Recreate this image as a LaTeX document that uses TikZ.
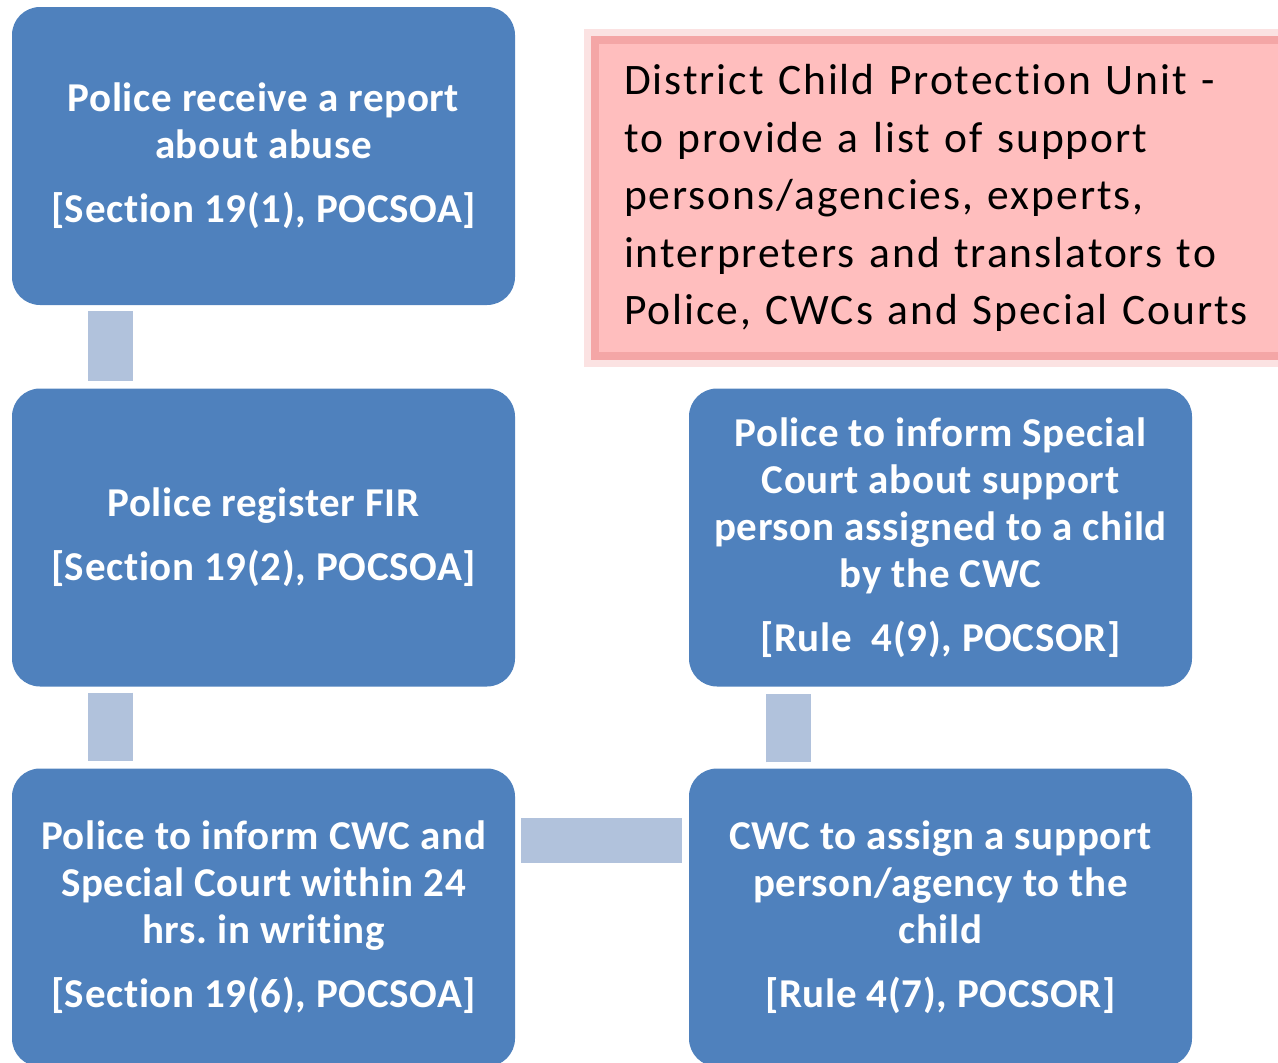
\documentclass[tikz,border=0pt]{standalone}
\usepackage{fontspec}
\setmainfont{Carlito}[Ligatures=NoCommon]
\newfontfamily\stagefont{Carlito}[LetterSpace=1.6,Ligatures=NoCommon]
\newfontfamily\unitfont{Carlito}[LetterSpace=4.5,Ligatures=NoCommon]
\usetikzlibrary{positioning}
\frenchspacing

\definecolor{boxblue}{RGB}{79,129,189}
\definecolor{linkblue}{RGB}{177,194,220}
\definecolor{pinkfill}{RGB}{255,190,190}
\definecolor{pinkedge}{RGB}{244,166,166}
\definecolor{pinkglow}{RGB}{251,226,226}

\tikzset{
  stage/.style={fill=boxblue,rounded corners=28pt,minimum width=503pt,
    minimum height=298pt,inner sep=0pt,align=center,text=white,
    font=\stagefont\fontsize{41}{47}\selectfont\bfseries\frenchspacing},
  link/.style={draw=linkblue,line width=45pt,shorten <=6pt,shorten >=7pt},
  unitbox/.style={fill=pinkfill,draw=pinkedge,line width=8pt,
    preaction={draw=pinkglow,line width=22pt},
    anchor=north west,text width=650pt,inner xsep=29pt,minimum height=316pt,
    align=left,font=\unitfont\fontsize{43.5}{57.5}\selectfont}
}

\begin{document}
\begin{tikzpicture}[x=1pt,y=-1pt]
  \useasboundingbox (0,0) rectangle (1278,1063);
  % left column
  \node[stage](report) at (263.5,156)
    {Police receive a report\\about abuse\\[17pt][Section 19(1), POCSOA]};
  \node[stage](fir) at (263.5,537.5)
    {Police register FIR\\[17pt][Section 19(2), POCSOA]};
  \node[stage](inform) at (263.5,917.5)
    {Police to inform CWC and\\Special Court within 24\\hrs. in writing\\[17pt][Section 19(6), POCSOA]};
  % right column
  \node[stage](assign) at (940.5,917.5)
    {CWC to assign a support\\person/agency to the\\child\\[17pt][Rule 4(7), POCSOR]};
  \node[stage](court) at (940.5,537.5)
    {Police to inform Special\\Court about support\\person assigned to a child\\by the CWC\\[17pt][Rule\ \ 4(9), POCSOR]};
  \node[unitbox](dcpu) at (591,36)
    {District Child Protection Unit -\\to provide a list of support\\persons/agencies, experts,\\interpreters and translators to\\Police, CWCs and Special Courts};
  % connectors
  \draw[link]([xshift=-153pt]report.south)--([xshift=-153pt]fir.north);
  \draw[link]([xshift=-153pt]fir.south)--([xshift=-153pt]inform.north);
  \draw[link]([yshift=77pt]inform.east)--([yshift=77pt]assign.west);
  \draw[link]([xshift=-152pt]assign.north)--([xshift=-152pt]court.south);
\end{tikzpicture}
\end{document}
